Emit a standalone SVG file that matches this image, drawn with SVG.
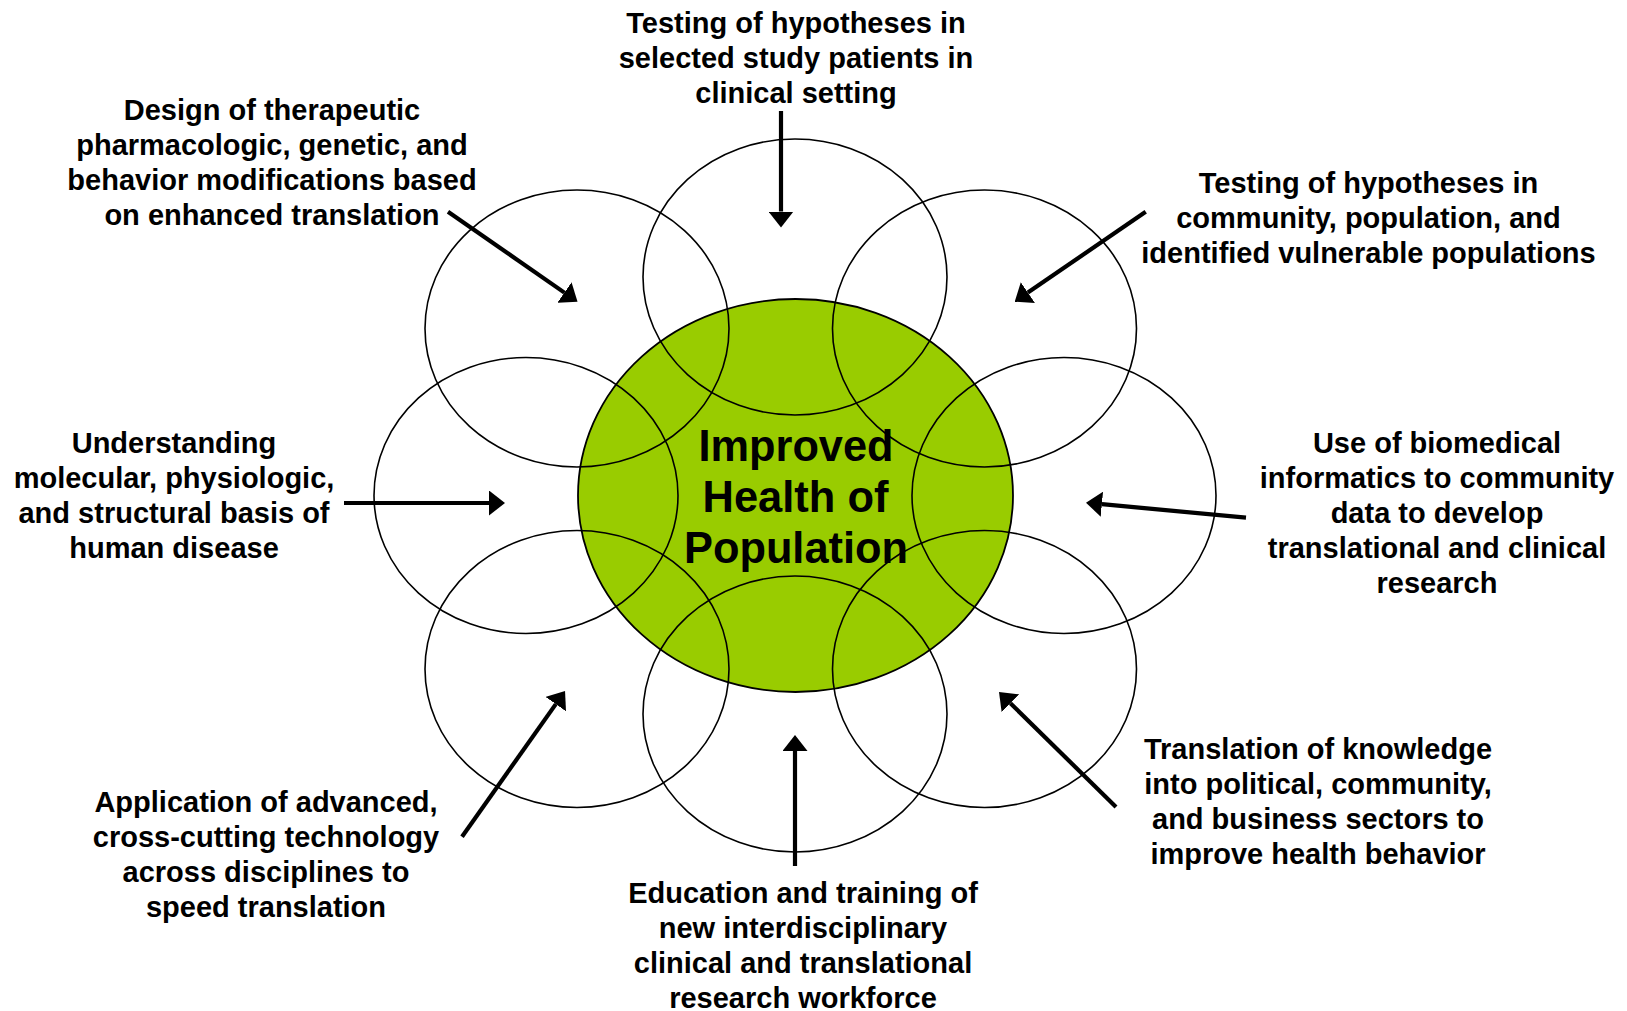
<svg xmlns="http://www.w3.org/2000/svg" width="1627" height="1011" viewBox="0 0 1627 1011">
<style>
  .lbl { font-family: "Liberation Sans", Arial, sans-serif; font-weight: bold; font-size: 29px; fill: #000; text-anchor: middle; }
  .ctr { font-family: "Liberation Sans", Arial, sans-serif; font-weight: bold; font-size: 45px; fill: #000; text-anchor: middle; }
  .petal { fill: none; stroke: #000; stroke-width: 1.6; }
  .core { fill: #99CC00; stroke: #000; stroke-width: 1.8; }
  .arrow { stroke: #000; stroke-width: 4.2; fill: none; marker-end: url(#ah); }
</style>
<defs>
  <marker id="ah" viewBox="0 0 16 25" refX="0" refY="12.5" markerWidth="16" markerHeight="25" markerUnits="userSpaceOnUse" orient="auto">
    <path d="M0,0 L16,12.5 L0,25 Z" fill="#000"/>
  </marker>
</defs>
<rect width="1627" height="1011" fill="#fff"/>

<g id="center">
  <ellipse class="core" cx="795.5" cy="495.5" rx="217.5" ry="196.5"/>
</g>

<g id="petals">
  <ellipse id="petal-n" class="petal" cx="795" cy="277" rx="152" ry="138"/>
  <ellipse id="petal-ne" class="petal" cx="984.5" cy="328.5" rx="152" ry="138.5"/>
  <ellipse id="petal-e" class="petal" cx="1064" cy="495.5" rx="152" ry="138"/>
  <ellipse id="petal-se" class="petal" cx="984.5" cy="669" rx="152" ry="138.5"/>
  <ellipse id="petal-s" class="petal" cx="795" cy="714" rx="152" ry="138"/>
  <ellipse id="petal-sw" class="petal" cx="577" cy="669" rx="152" ry="138.5"/>
  <ellipse id="petal-w" class="petal" cx="526" cy="495.5" rx="152" ry="138"/>
  <ellipse id="petal-nw" class="petal" cx="577" cy="328.5" rx="152" ry="138.5"/>
</g>

<g id="center-label">
  <text class="ctr" x="796" y="461" textLength="195" lengthAdjust="spacingAndGlyphs">Improved</text>
  <text class="ctr" x="795.5" y="512" textLength="186" lengthAdjust="spacingAndGlyphs">Health of</text>
  <text class="ctr" x="796" y="563" textLength="224" lengthAdjust="spacingAndGlyphs">Population</text>
</g>

<g id="connectors">
  <line class="arrow" x1="781" y1="111" x2="781" y2="211.5"/>
  <line class="arrow" x1="448" y1="211.7" x2="564.4" y2="292.6"/>
  <line class="arrow" x1="1145.7" y1="211.7" x2="1027.9" y2="292.6"/>
  <line class="arrow" x1="344" y1="503" x2="489" y2="503"/>
  <line class="arrow" x1="1246" y1="517.6" x2="1101.9" y2="504.2"/>
  <line class="arrow" x1="462" y1="836.7" x2="555.8" y2="704.1"/>
  <line class="arrow" x1="1116" y1="807" x2="1010.4" y2="703.2"/>
  <line class="arrow" x1="795" y1="866" x2="795" y2="751"/>
</g>

<g id="label-n">
  <text class="lbl" x="796" y="32.5">Testing of hypotheses in</text>
  <text class="lbl" x="796" y="67.5">selected study patients in</text>
  <text class="lbl" x="796" y="102.5">clinical setting</text>
</g>
<g id="label-nw">
  <text class="lbl" x="272" y="120">Design of therapeutic</text>
  <text class="lbl" x="272" y="155">pharmacologic, genetic, and</text>
  <text class="lbl" x="272" y="190">behavior modifications based</text>
  <text class="lbl" x="272" y="225">on enhanced translation</text>
</g>
<g id="label-ne">
  <text class="lbl" x="1368.5" y="193">Testing of hypotheses in</text>
  <text class="lbl" x="1368.5" y="228">community, population, and</text>
  <text class="lbl" x="1368.5" y="263">identified vulnerable populations</text>
</g>
<g id="label-w">
  <text class="lbl" x="174" y="453">Understanding</text>
  <text class="lbl" x="174" y="488">molecular, physiologic,</text>
  <text class="lbl" x="174" y="523">and structural basis of</text>
  <text class="lbl" x="174" y="558">human disease</text>
</g>
<g id="label-e">
  <text class="lbl" x="1437" y="453">Use of biomedical</text>
  <text class="lbl" x="1437" y="488">informatics to community</text>
  <text class="lbl" x="1437" y="523">data to develop</text>
  <text class="lbl" x="1437" y="558">translational and clinical</text>
  <text class="lbl" x="1437" y="593">research</text>
</g>
<g id="label-sw">
  <text class="lbl" x="266" y="812">Application of advanced,</text>
  <text class="lbl" x="266" y="847">cross-cutting technology</text>
  <text class="lbl" x="266" y="882">across disciplines to</text>
  <text class="lbl" x="266" y="917">speed translation</text>
</g>
<g id="label-se">
  <text class="lbl" x="1318" y="758.5">Translation of knowledge</text>
  <text class="lbl" x="1318" y="793.5">into political, community,</text>
  <text class="lbl" x="1318" y="828.5">and business sectors to</text>
  <text class="lbl" x="1318" y="863.5">improve health behavior</text>
</g>
<g id="label-s">
  <text class="lbl" x="803" y="903">Education and training of</text>
  <text class="lbl" x="803" y="938">new interdisciplinary</text>
  <text class="lbl" x="803" y="973">clinical and translational</text>
  <text class="lbl" x="803" y="1008">research workforce</text>
</g>
</svg>
